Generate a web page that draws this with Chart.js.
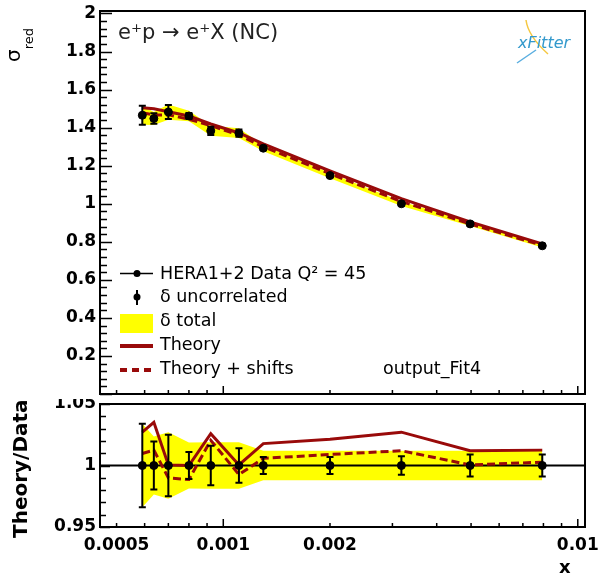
<!DOCTYPE html>
<html>
<head>
<meta charset="utf-8">
<script src="https://cdn.jsdelivr.net/npm/chart.js@4.4.0/dist/chart.umd.min.js"></script>
<style>
  body { margin: 0; background: #fff; }
  #wrap { position: relative; width: 598px; height: 581px; font-family: "DejaVu Sans", sans-serif; overflow: hidden; }
  canvas { position: absolute; left: 0; }
  #top { top: 0; }
  #bottom { top: 399px; }
  .lbl { position: absolute; white-space: nowrap; line-height: 1; color: #000; }
  .rot { transform-origin: 0 0; transform: rotate(-90deg); }
</style>
</head>
<body>
<div id="wrap">
  <canvas id="top" width="598" height="399" style="width:598px;height:399px"></canvas>
  <canvas id="bottom" width="598" height="182" style="width:598px;height:182px"></canvas>

  <div class="lbl" style="left:118px;top:22px;font-size:21px;color:#222">e⁺p → e⁺X (NC)</div>
  <div class="lbl" style="left:518px;top:35px;font-size:16px;font-style:italic;color:#3399cc">xFitter</div>

  <div class="lbl" style="left:160px;top:265px;font-size:17.5px">HERA1+2 Data Q² = 45</div>
  <div class="lbl" style="left:160px;top:288px;font-size:17.5px">δ uncorrelated</div>
  <div class="lbl" style="left:160px;top:312px;font-size:17.5px">δ total</div>
  <div class="lbl" style="left:160px;top:336px;font-size:17.5px">Theory</div>
  <div class="lbl" style="left:160px;top:360px;font-size:17.5px">Theory + shifts</div>
  <div class="lbl" style="left:383px;top:360px;font-size:17.5px">output_Fit4</div>

  <div class="lbl rot" style="left:3px;top:62px;font-size:20px">σ<span style="font-size:13px;vertical-align:-13px">red</span></div>
  <div class="lbl rot" style="left:10px;top:538px;font-size:20px;font-weight:bold">Theory/Data</div>
  <div class="lbl" style="left:559px;top:558px;font-size:18px;font-weight:bold">x</div>
</div>

<script>
// HERA1+2 NC e+p, Q2 = 45
const xValues = [0.000591, 0.000637, 0.0007, 0.0008, 0.000922, 0.001107, 0.001297, 0.002, 0.00318, 0.00497, 0.00794];
const sigmaRed = [1.465, 1.448, 1.482, 1.461, 1.383, 1.371, 1.292, 1.148, 1.000, 0.894, 0.779];
// relative errors
const uncorErr = [0.034, 0.0195, 0.025, 0.011, 0.016, 0.014, 0.007, 0.007, 0.0075, 0.009, 0.009];
const totalErr = [0.034, 0.0235, 0.027, 0.0186, 0.019, 0.019, 0.012, 0.012, 0.012, 0.012, 0.012];
const theory = [1.505, 1.499, 1.483, 1.461, 1.419, 1.372, 1.315, 1.172, 1.027, 0.905, 0.789];
const theoryShifts = [1.479, 1.466, 1.467, 1.444, 1.411, 1.361, 1.2995, 1.158, 1.012, 0.894, 0.781];
const ratioTheory = [1.0271, 1.0351, 1.0005, 1.0, 1.0258, 1.0005, 1.0178, 1.0213, 1.0271, 1.012, 1.0125];
const ratioShifts = [1.0098, 1.0125, 0.9899, 0.9886, 1.0205, 0.9926, 1.0058, 1.009, 1.012, 1.0005, 1.0027];

const xLabelTicks = [0.0005, 0.001, 0.002, 0.01];
const xMajorTicks = [0.001, 0.01];
const xMinorTicks = [0.0005, 0.0006, 0.0007, 0.0008, 0.0009, 0.002, 0.003, 0.004, 0.005, 0.006, 0.007, 0.008, 0.009];
const topYTicks = [0.2, 0.4, 0.6, 0.8, 1, 1.2, 1.4, 1.6, 1.8, 2];
const ratioYTicks = [0.95, 1, 1.05];

const X_MIN = 0.000449, X_MAX = 0.01048;
const YELLOW = '#ffff00';
const RED = '#990a0a';
const tickFont = { family: 'DejaVu Sans', weight: 'bold', size: 17 };

const pts = (ys) => xValues.map((x, i) => ({ x: x, y: ys[i] }));
const ones = xValues.map(() => 1);

function steps(from, to, step) {
  const out = [];
  for (let k = 0; from + k * step <= to + 1e-9; k++) out.push(+(from + k * step).toFixed(4));
  return out;
}

// no extra room for half labels at the axis ends
function noPad(s, size) {
  if (s.isHorizontal()) s.height = size; else s.width = size;
  s.paddingTop = 0; s.paddingBottom = 0; s.paddingLeft = 0; s.paddingRight = 0;
}

// ROOT-like frame with inward ticks + error bars
function rootDecor(cfg) {
  return {
    id: 'rootDecor',
    afterDatasetsDraw(chart) {
      const ctx = chart.ctx, xs = chart.scales.x, ys = chart.scales.y;
      ctx.save();
      ctx.strokeStyle = '#000';
      ctx.lineWidth = 2;
      xValues.forEach((x, i) => {
        const px = xs.getPixelForValue(x);
        const hi = ys.getPixelForValue(cfg.centers[i] * (1 + uncorErr[i]));
        const lo = ys.getPixelForValue(cfg.centers[i] * (1 - uncorErr[i]));
        ctx.beginPath();
        ctx.moveTo(px, hi); ctx.lineTo(px, lo);
        ctx.moveTo(px - 3.5, hi); ctx.lineTo(px + 3.5, hi);
        ctx.moveTo(px - 3.5, lo); ctx.lineTo(px + 3.5, lo);
        ctx.stroke();
      });
      ctx.restore();
    },
    afterDraw(chart) {
      const ctx = chart.ctx, a = chart.chartArea, xs = chart.scales.x, ys = chart.scales.y;
      ctx.save();
      ctx.strokeStyle = '#000';
      ctx.lineWidth = 1.5;
      ctx.beginPath();
      cfg.yMinor.forEach(v => {
        const p = Math.round(ys.getPixelForValue(v)) + 0.5;
        const len = cfg.yMajor.some(m => Math.abs(m - v) < 1e-6) ? cfg.yMajLen : cfg.yMinLen;
        ctx.moveTo(a.left, p); ctx.lineTo(a.left + len, p);
      });
      xMinorTicks.forEach(v => {
        const p = xs.getPixelForValue(v);
        ctx.moveTo(p, a.bottom); ctx.lineTo(p, a.bottom - cfg.xMinLen);
      });
      xMajorTicks.forEach(v => {
        const p = xs.getPixelForValue(v);
        ctx.moveTo(p, a.bottom); ctx.lineTo(p, a.bottom - cfg.xMajLen);
      });
      ctx.stroke();
      ctx.lineWidth = 2;
      ctx.strokeRect(a.left, a.top, a.right - a.left, a.bottom - a.top);
      if (cfg.legend) cfg.legend(ctx);
      ctx.restore();
    }
  };
}

function drawLegend(ctx) {
  ctx.lineWidth = 1.5;
  ctx.strokeStyle = '#000';
  ctx.fillStyle = '#000';
  ctx.beginPath(); ctx.moveTo(120, 273.5); ctx.lineTo(153, 273.5); ctx.stroke();
  ctx.beginPath(); ctx.arc(137, 273.5, 3.5, 0, Math.PI * 2); ctx.fill();
  ctx.lineWidth = 2;
  ctx.beginPath(); ctx.moveTo(137, 290); ctx.lineTo(137, 305); ctx.stroke();
  ctx.beginPath(); ctx.arc(137, 297, 3.5, 0, Math.PI * 2); ctx.fill();
  ctx.fillStyle = YELLOW;
  ctx.fillRect(120, 314, 33, 19);
  ctx.strokeStyle = RED;
  ctx.lineWidth = 4;
  ctx.beginPath(); ctx.moveTo(120, 346); ctx.lineTo(153, 346); ctx.stroke();
  ctx.setLineDash([7, 5]);
  ctx.beginPath(); ctx.moveTo(120, 370); ctx.lineTo(153, 370); ctx.stroke();
  ctx.setLineDash([]);
  // xFitter logo swooshes
  ctx.lineWidth = 1.5;
  ctx.strokeStyle = '#f5c842';
  ctx.beginPath(); ctx.moveTo(526, 20); ctx.quadraticCurveTo(528, 36, 548, 54); ctx.stroke();
  ctx.strokeStyle = '#5aaee0';
  ctx.beginPath(); ctx.moveTo(517, 63); ctx.lineTo(536, 50); ctx.stroke();
}

const bandStyle = { borderColor: 'rgba(0,0,0,0)', borderWidth: 0, pointRadius: 0, order: 10 };

new Chart(document.getElementById('top'), {
  type: 'line',
  data: {
    datasets: [
      Object.assign({ data: pts(sigmaRed.map((v, i) => v * (1 + totalErr[i]))), fill: '+1', backgroundColor: YELLOW }, bandStyle),
      Object.assign({ data: pts(sigmaRed.map((v, i) => v * (1 - totalErr[i]))), fill: false }, bandStyle),
      { data: pts(theory), borderColor: RED, borderWidth: 3, pointRadius: 0, fill: false, order: 3 },
      { data: pts(theoryShifts), borderColor: RED, borderWidth: 3, borderDash: [8, 4], pointRadius: 0, fill: false, order: 2 },
      { data: pts(sigmaRed), showLine: false, pointRadius: 4, pointBackgroundColor: '#000', pointBorderColor: '#000', order: 1 }
    ]
  },
  options: {
    responsive: false,
    animation: false,
    layout: { padding: { left: 0, right: 13, top: 11, bottom: 3 } },
    plugins: { legend: { display: false }, tooltip: { enabled: false } },
    scales: {
      x: { type: 'logarithmic', min: X_MIN, max: X_MAX, display: false },
      y: {
        min: 0, max: 2.013,
        afterFit: s => noPad(s, 100),
        afterBuildTicks: s => { s.ticks = topYTicks.map(v => ({ value: v })); },
        ticks: { font: tickFont, color: '#000', padding: 4, callback: v => String(+v.toFixed(2)) },
        grid: { display: false, drawTicks: false, tickLength: 0 },
        border: { display: false }
      }
    }
  },
  plugins: [rootDecor({
    centers: sigmaRed,
    yMinor: steps(0, 2, 0.04), yMajor: steps(0, 2, 0.2), yMajLen: 12, yMinLen: 7,
    xMajLen: 8, xMinLen: 4, legend: drawLegend
  })]
});

new Chart(document.getElementById('bottom'), {
  type: 'line',
  data: {
    datasets: [
      Object.assign({ data: pts(totalErr.map(e => 1 + e)), fill: '+1', backgroundColor: YELLOW }, bandStyle),
      Object.assign({ data: pts(totalErr.map(e => 1 - e)), fill: false }, bandStyle),
      { data: [{ x: X_MIN, y: 1 }, { x: X_MAX, y: 1 }], borderColor: '#000', borderWidth: 2, pointRadius: 0, fill: false, order: 4 },
      { data: pts(ratioTheory), borderColor: RED, borderWidth: 3, pointRadius: 0, fill: false, order: 3 },
      { data: pts(ratioShifts), borderColor: RED, borderWidth: 3, borderDash: [8, 4], pointRadius: 0, fill: false, order: 2 },
      { data: pts(ones), showLine: false, pointRadius: 4, pointBackgroundColor: '#000', pointBorderColor: '#000', order: 1 }
    ]
  },
  options: {
    responsive: false,
    animation: false,
    layout: { padding: { left: 0, right: 13, top: 2, bottom: 0 } },
    plugins: { legend: { display: false }, tooltip: { enabled: false } },
    scales: {
      x: {
        type: 'logarithmic', min: X_MIN, max: X_MAX,
        afterFit: s => noPad(s, 54),
        afterBuildTicks: s => { s.ticks = xLabelTicks.map(v => ({ value: v })); },
        ticks: { font: tickFont, color: '#000', padding: 8, autoSkip: false, maxRotation: 0, callback: v => String(v) },
        grid: { display: false, drawTicks: false, tickLength: 0 },
        border: { display: false }
      },
      y: {
        min: 0.95, max: 1.05,
        afterFit: s => noPad(s, 100),
        afterBuildTicks: s => { s.ticks = ratioYTicks.map(v => ({ value: v })); },
        ticks: { font: tickFont, color: '#000', padding: 4, callback: v => String(+v.toFixed(2)) },
        grid: { display: false, drawTicks: false, tickLength: 0 },
        border: { display: false }
      }
    }
  },
  plugins: [rootDecor({
    centers: ones,
    yMinor: steps(0.95, 1.05, 0.01), yMajor: ratioYTicks, yMajLen: 10, yMinLen: 6,
    xMajLen: 8, xMinLen: 4
  })]
});
</script>
</body>
</html>
